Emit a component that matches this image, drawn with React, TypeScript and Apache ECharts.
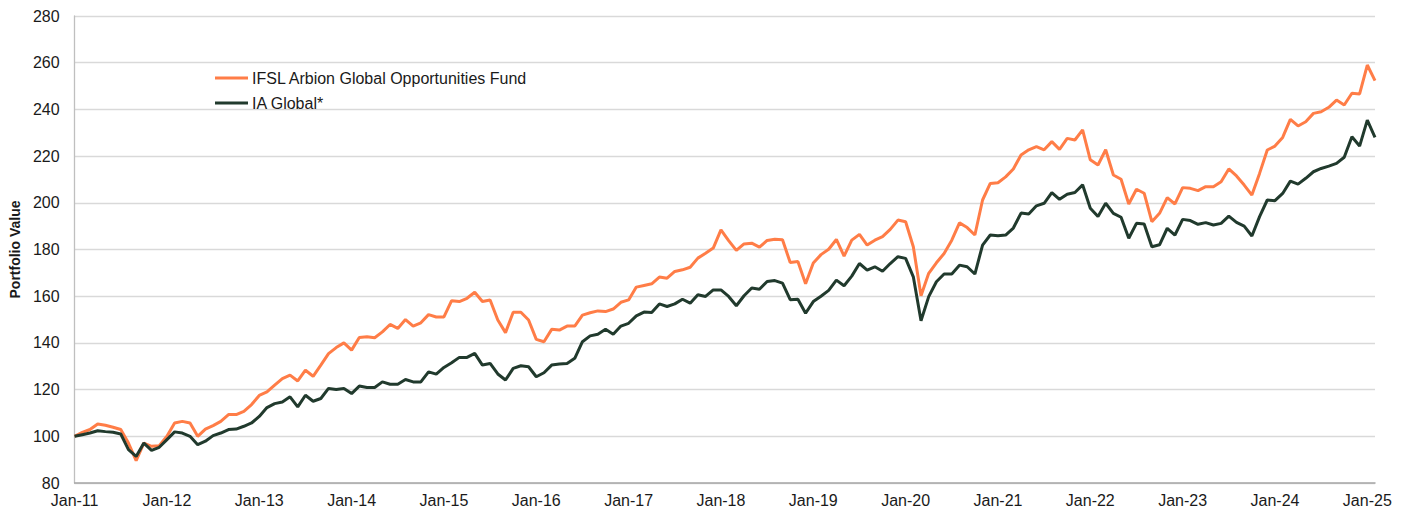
import React, { useEffect, useRef } from "react";
import * as echarts from "echarts";

const MONTHS = ["Jan", "Feb", "Mar", "Apr", "May", "Jun", "Jul", "Aug", "Sep", "Oct", "Nov", "Dec"];
const YEARS = ["11", "12", "13", "14", "15", "16", "17", "18", "19", "20", "21", "22", "23", "24", "25"];

// Jan-11 .. Feb-25 monthly
const categories: string[] = [];
YEARS.forEach((y) => {
  MONTHS.forEach((m) => {
    if (categories.length < 170) categories.push(`${m}-${y}`);
  });
});

const fundName = "IFSL Arbion Global Opportunities Fund";
const indexName = "IA Global*";

const fundValues = [
  100, 101.7, 102.9, 105.3, 104.7, 103.9, 102.9, 97.1, 89.6, 97.1, 95.7, 96,
  100, 105.7, 106.4, 105.7, 100, 103.1, 104.6, 106.4, 109.3, 109.3, 110.7, 113.6,
  117.5, 119, 121.9, 124.7, 126.2, 123.7, 128.3, 125.7, 130.5, 135.4, 138, 140,
  136.9, 142.3, 142.6, 142.2, 144.7, 147.9, 146.2, 150, 147.2, 148.6, 152.1, 151.1,
  151.1, 158.1, 157.7, 159.1, 161.7, 157.7, 158.4, 149.8, 144.4, 153.1, 153.1, 149.8,
  141.5, 140.5, 145.8, 145.5, 147.2, 147.2, 151.9, 152.9, 153.7, 153.4, 154.5, 157.4,
  158.4, 163.9, 164.6, 165.3, 168.2, 167.7, 170.6, 171.3, 172.4, 176.3, 178.4, 180.6,
  188.4, 183.8, 179.6, 182.4, 182.7, 181, 183.9, 184.4, 184.2, 174.4, 174.9, 165.3,
  174.2, 177.8, 180.1, 184.3, 177.2, 184, 186.5, 181.9, 184, 185.5, 188.6, 192.6,
  191.9, 181.2, 160.2, 169.8, 174.3, 178.3, 184, 191.4, 189.4, 186.2, 201.2, 208.3,
  208.6, 211.1, 214.5, 220.5, 222.7, 224.1, 222.7, 226.2, 222.9, 227.6, 226.9, 231.2,
  218.4, 216.2, 222.7, 211.9, 210.1, 199.5, 205.8, 204.1, 191.9, 195.5, 202.2, 199.5,
  206.5, 206.2, 205.2, 206.9, 206.9, 209, 214.5, 211.5, 207.6, 203.3, 212.6, 222.6,
  224.3, 228, 235.7, 232.9, 234.7, 238.3, 239, 240.9, 244, 241.9, 246.9, 246.6,
  259, 252.3,
];

const indexValues = [
  100, 100.7, 101.4, 102.4, 102, 101.7, 101, 94.3, 91.4, 97.1, 94, 95.3,
  98.6, 101.9, 101.4, 100, 96.4, 97.9, 100.3, 101.4, 102.9, 103.1, 104.3, 105.7,
  108.5, 112.3, 114, 114.7, 116.9, 112.6, 117.6, 115, 116.2, 120.5, 120, 120.5,
  118.3, 121.5, 120.9, 120.9, 123.3, 122.3, 122.3, 124.3, 123.3, 123.3, 127.6, 126.6,
  129.5, 131.5, 133.8, 133.8, 135.5, 130.5, 131.2, 126.7, 124.1, 129.1, 130.2, 129.8,
  125.5, 127.2, 130.5, 131, 131.2, 133.4, 140.5, 143, 143.7, 145.8, 143.7, 147.2,
  148.4, 151.6, 153.2, 153, 156.7, 155.6, 156.7, 158.7, 157, 160.6, 159.9, 162.7,
  162.7, 159.9, 155.9, 160.2, 163.5, 163, 166.3, 166.7, 165.6, 158.5, 158.7, 152.7,
  157.7, 160, 162.5, 166.9, 164.5, 168.6, 174, 171.2, 172.6, 170.7, 174, 176.9,
  176.2, 168.3, 149.5, 159.8, 166.2, 169.5, 169.5, 173.3, 172.6, 169.5, 181.9, 186.2,
  185.9, 186.2, 189.2, 195.6, 195.2, 198.7, 199.8, 204.4, 201.5, 203.7, 204.4, 207.7,
  197.7, 194.1, 199.8, 195.5, 193.8, 184.8, 191.2, 190.9, 181.2, 182, 189.1, 186.2,
  192.9, 192.4, 190.8, 191.5, 190.5, 191.2, 194.3, 191.6, 190, 185.8, 194.1, 201.2,
  200.9, 204, 209.3, 208, 210.5, 213.3, 214.7, 215.7, 216.9, 219.5, 228.3, 224.3,
  235.4, 228,
];

const FONT = "'Liberation Sans', Arial, Helvetica, sans-serif";

export default function App() {
  const ref = useRef<HTMLDivElement>(null);

  useEffect(() => {
    if (!ref.current) return;
    const chart = echarts.init(ref.current, undefined, { renderer: "svg" });
    chart.setOption({
      animation: false,
      backgroundColor: "#ffffff",
      textStyle: { fontFamily: FONT },
      grid: { left: 70, right: 33, top: 16, bottom: 28, containLabel: false },
      legend: {
        orient: "vertical",
        left: 210,
        top: 65,
        icon: "rect",
        itemWidth: 33,
        itemHeight: 3,
        itemGap: 9,
        textStyle: { fontSize: 16, color: "#1a1a1a", fontFamily: FONT, padding: [0, 0, 0, -1] },
        data: [fundName, indexName],
      },
      xAxis: {
        type: "category",
        data: categories,
        boundaryGap: false,
        axisLine: { show: true, lineStyle: { color: "#a6a6a6", width: 1.5 } },
        axisTick: { show: false },
        axisLabel: {
          interval: (index: number) => index % 12 === 0,
          fontSize: 16,
          color: "#1a1a1a",
          margin: 9,
          fontFamily: FONT,
        },
        splitLine: { show: false },
      },
      yAxis: {
        type: "value",
        min: 80,
        max: 280,
        interval: 20,
        name: "Portfolio Value",
        nameLocation: "middle",
        nameRotate: 90,
        nameGap: 50,
        nameTextStyle: { fontSize: 14, fontWeight: "bold", color: "#1a1a1a", fontFamily: FONT },
        axisLine: { show: true, lineStyle: { color: "#bfbfbf", width: 1.3 } },
        axisTick: { show: false },
        axisLabel: { fontSize: 16, color: "#1a1a1a", margin: 15, fontFamily: FONT },
        splitLine: { show: true, lineStyle: { color: "#d9d9d9", width: 1.3 } },
      },
      series: [
        {
          name: fundName,
          type: "line",
          data: fundValues,
          symbol: "none",
          lineStyle: { color: "#ff7d47", width: 3 },
          itemStyle: { color: "#ff7d47" },
          z: 3,
        },
        {
          name: indexName,
          type: "line",
          data: indexValues,
          symbol: "none",
          lineStyle: { color: "#213a2d", width: 3 },
          itemStyle: { color: "#213a2d" },
          z: 4,
        },
      ],
    });
    return () => chart.dispose();
  }, []);

  return (
    <div
      ref={ref}
      style={{ position: "fixed", left: 0, top: 0, width: 1408, height: 511, background: "#fff" }}
    />
  );
}
